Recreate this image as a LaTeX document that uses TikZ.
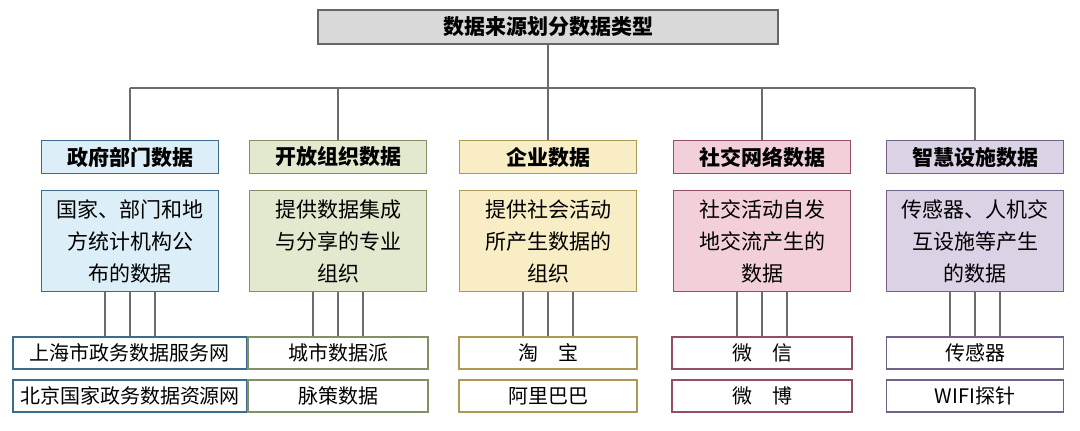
\documentclass[tikz,border=0pt]{standalone}
\usepackage{fontspec}
\setmainfont{Noto Sans CJK SC}
\begin{document}
\begin{tikzpicture}[x=1pt,y=-1pt,
 box/.style={draw=#1!80!black,line width=1.8pt,inner sep=0pt,anchor=center},
 title/.style={font=\fontsize{21}{24}\selectfont\bfseries,minimum height=33pt,minimum width=177pt},
 desc/.style={font=\fontsize{21}{32}\selectfont,minimum height=101pt,minimum width=177pt,align=center},
 item/.style={draw=#1!80!black,line width=1.8pt,fill=white,minimum height=32pt,font=\fontsize{20}{22}\selectfont,inner sep=0pt},
 ln/.style={draw=gray!85!black,line width=1.8pt}]
\definecolor{cA}{HTML}{4A86B0}\definecolor{fA}{HTML}{DCEEF7}
\definecolor{cB}{HTML}{A3B47E}\definecolor{fB}{HTML}{E3E9CE}
\definecolor{cC}{HTML}{D8BE6C}\definecolor{fC}{HTML}{F8EDC5}
\definecolor{cD}{HTML}{B8607F}\definecolor{fD}{HTML}{F2CFD9}
\definecolor{cE}{HTML}{8E7BAB}\definecolor{fE}{HTML}{DBD2E6}
\useasboundingbox (0,0) rectangle (1080,431);
\node[draw=gray!80!black,fill=gray!30,line width=1.8pt,minimum width=460pt,minimum height=34pt,font=\fontsize{21}{24}\selectfont\bfseries] (top) at (548,27) {数据来源划分数据类型};
\coordinate (h) at (548,88);
\foreach \n/\x/\c/\f/\t/\d in {
 a/130/cA/fA/政府部门数据/{国家、部门和地\\方统计机构公\\布的数据},
 b/338/cB/fB/开放组织数据/{提供数据集成\\与分享的专业\\组织},
 c/548/cC/fC/企业数据/{提供社会活动\\所产生数据的\\组织},
 d/762/cD/fD/社交网络数据/{社交活动自发\\地交流产生的\\数据},
 e/975/cE/fE/智慧设施数据/{传感器、人机交\\互设施等产生\\的数据}}{
 \node[box=\c,fill=\f,title] (t\n) at (\x,157) {\t};
 \node[box=\c,fill=\f,desc] (d\n) at (\x,241) {\d};
 \coordinate (j\n) at (\x,88);
}
\draw[ln] (top.south) -- (h);
\draw[ln] (ja) -- (je);
\foreach \n in {a,b,c,d,e}{\draw[ln] (j\n) -- (t\n.north);}
\node[item=cA,minimum width=234pt] (a1) at (130,353) {上海市政务数据服务网};
\node[item=cA,minimum width=234pt] (a2) at (130,396) {北京国家政务数据资源网};
\node[item=cB,minimum width=180pt] (b1) at (338,353) {城市数据派};
\node[item=cB,minimum width=180pt] (b2) at (338,396) {脉策数据};
\node[item=cC,minimum width=178pt] (c1) at (548,353) {淘\quad 宝};
\node[item=cC,minimum width=178pt] (c2) at (548,396) {阿里巴巴};
\node[item=cD,minimum width=180pt] (d1) at (762,353) {微\quad 信};
\node[item=cD,minimum width=180pt] (d2) at (762,396) {微\quad 博};
\node[item=cE,minimum width=177pt] (e1) at (975,353) {传感器};
\node[item=cE,minimum width=177pt] (e2) at (975,396) {WIFI探针};
\foreach \n in {a,b,c,d,e}{
 \foreach \o in {-25,0,25}{\draw[ln] ([xshift=\o pt]d\n.south) -- ([xshift=\o pt]\n1.north);}
}
\end{tikzpicture}
\end{document}
